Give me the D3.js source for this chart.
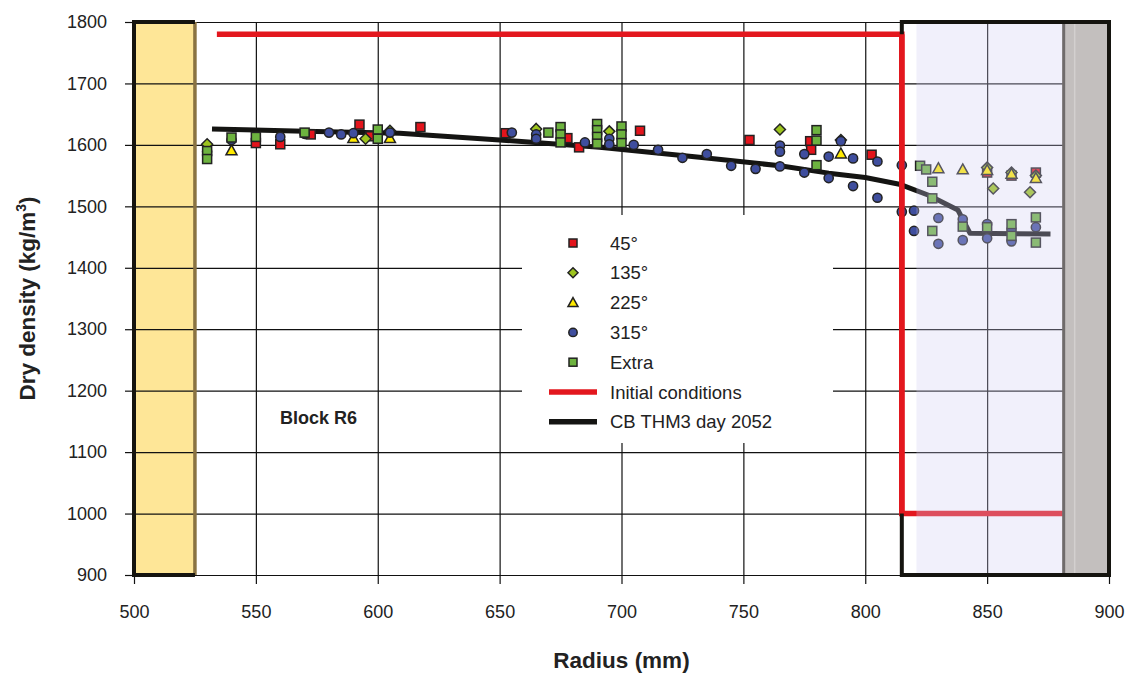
<!DOCTYPE html>
<html><head><meta charset="utf-8">
<script src="https://cdn.jsdelivr.net/npm/d3@7"></script>
<style>
body{margin:0;background:#fff;}
svg text{font-family:"Liberation Sans",Arial,Helvetica,sans-serif;fill:#222;}
</style></head>
<body><svg id="c" width="1131" height="675"></svg>
<script>
// ---------- data ----------
const xTicks = [500,550,600,650,700,750,800,850,900];
const yTicks = [900,1000,1100,1200,1300,1400,1500,1600,1700,1800];

const s45 = [[550,1603],[560,1601],[572.5,1617],[592.5,1633],[597,1614],[617.5,1629],[652.5,1619],
  [677.8,1611],[682.6,1596],[707.6,1623],[752.5,1608],[777.4,1606],[777.8,1592],[802.6,1584],
  [850,1555],[860,1550],[870,1555]];
const s135 = [[530,1601],[595,1610],[605,1623],[665,1626],[695,1622],[765,1625],[790,1608],
  [850,1563],[852.5,1529],[860,1555],[867.6,1523],[870,1550]];
const s225 = [[540,1591],[590,1611],[605,1611],[790,1586],[830,1562],[840,1560],[850,1559],[860,1553],[870,1546]];
const s315 = [[530,1589],[540,1608],[560,1613],[570,1618],[580,1620],[585,1617],[590,1619],[605,1620],
  [655,1620],[665,1617],[665,1610],[685,1604],[695,1610],[695,1601],[705,1600],[715,1592],[725,1579],
  [735,1585],[745,1566],[755,1561],[765,1599],[765,1589],[765,1565],[775,1585],[775,1555],[785,1581],
  [785,1546],[790,1606],[795,1578],[795,1533],[805,1573],[805,1514],[815,1567],[815,1491],[820,1493],
  [820,1460],[830,1481],[830,1439],[840,1479],[840,1445],[850,1471],[850,1448],[860,1462],[860,1443],[870,1466]];
const sExtra = [[530,1590],[530,1577],[540,1612],[550,1613],[570,1620],[600,1625],[600,1610],[670,1620],
  [675,1629],[675,1617],[675,1604],[690,1634],[690,1624],[690,1613],[690,1602],[700,1630],[700,1617],[700,1603],
  [780,1624],[780,1607],[780,1567],[822.5,1566],[825,1560],[827.5,1540],[827.5,1513],[827.5,1460],
  [840,1467],[850,1466],[860,1471],[860,1452],[870,1482],[870,1441]];
const initialConditions = [[534,1780],[815,1780],[815,1000],[882,1000]];
const cbTHM3 = [[532,1626],[570,1622],[609,1619],[650,1608],[691,1596],[732,1580],[765,1566],[785,1554],
  [800,1547],[814,1536],[826,1518],[838,1494],[843,1456],[876,1455]];
const legendLabels = ["45°","135°","225°","315°","Extra","Initial conditions","CB THM3 day 2052"];
const zones = {left:[500,525], buffer:[815,900], lav:[821,881], grey:[881,900]};

// ---------- layout ----------
const svg = d3.select("#c");
const x = d3.scaleLinear().domain([500,900]).range([134,1109]);
const y = d3.scaleLinear().domain([900,1800]).range([575,22]);
const W = x(900)-x(500), H = y(900)-y(1800);
const fmt = d3.format("d");

// left zone (yellow)
svg.append("rect").attr("x",x(zones.left[0])).attr("y",y(1800)).attr("width",x(zones.left[1])-x(zones.left[0]))
  .attr("height",H).attr("fill","#FEE697");

// grid
svg.append("g").attr("transform",`translate(${x(500)},0)`)
  .call(d3.axisLeft(y).tickValues(yTicks).tickSize(-W).tickFormat(""))
  .call(g=>g.select(".domain").remove())
  .call(g=>g.selectAll("line").attr("stroke","#111").attr("stroke-width",1.2));
svg.append("g").attr("transform",`translate(0,${y(1800)})`)
  .call(d3.axisBottom(x).tickValues(xTicks).tickSize(H).tickFormat(""))
  .call(g=>g.select(".domain").remove())
  .call(g=>g.selectAll("line").attr("stroke","#111").attr("stroke-width",1.2));

// tick axes
svg.append("g").attr("transform",`translate(${x(500)},0)`)
  .call(d3.axisLeft(y).tickValues(yTicks).tickSize(9).tickPadding(18).tickFormat(fmt))
  .call(g=>g.select(".domain").remove())
  .call(g=>g.selectAll("line").attr("stroke","#111").attr("stroke-width",1.2))
  .call(g=>g.selectAll("text").attr("font-size",18).attr("fill","#222").style("font-family","'Liberation Sans',Arial,sans-serif"));
svg.append("g").attr("transform",`translate(0,${y(900)})`)
  .call(d3.axisBottom(x).tickValues(xTicks).tickSize(9).tickPadding(21).tickFormat(fmt))
  .call(g=>g.select(".domain").remove())
  .call(g=>g.selectAll("line").attr("stroke","#111").attr("stroke-width",1.2))
  .call(g=>g.selectAll("text").attr("font-size",18).attr("fill","#222").style("font-family","'Liberation Sans',Arial,sans-serif"));

// legend background
svg.append("rect").attr("x",522).attr("y",215).attr("width",311).attr("height",228).attr("fill","#fff");

// lines
const line = d3.line().x(d=>x(d[0])).y(d=>y(d[1]));
svg.append("path").datum(initialConditions).attr("d",line).attr("fill","none")
  .attr("stroke","#E3171E").attr("stroke-width",5.5);
svg.append("path").datum(cbTHM3).attr("d",line).attr("fill","none")
  .attr("stroke","#141412").attr("stroke-width",5).attr("stroke-linejoin","round");

// markers
const MK = {
  square:(g,cx,cy,fill,s=9)=>g.append("rect").attr("x",cx-s/2).attr("y",cy-s/2).attr("width",s).attr("height",s)
    .attr("fill",fill).attr("stroke","#222").attr("stroke-width",1.5),
  diamond:(g,cx,cy,fill,s=5.5)=>g.append("path").attr("d",`M${cx},${cy-s}L${cx+s},${cy}L${cx},${cy+s}L${cx-s},${cy}Z`)
    .attr("fill",fill).attr("stroke","#222").attr("stroke-width",1.5),
  triangle:(g,cx,cy,fill,s=5.5)=>g.append("path").attr("d",`M${cx},${cy-s}L${cx+s},${cy+s*0.8}L${cx-s},${cy+s*0.8}Z`)
    .attr("fill",fill).attr("stroke","#222").attr("stroke-width",1.5),
  circle:(g,cx,cy,fill,s=4.6)=>g.append("circle").attr("cx",cx).attr("cy",cy).attr("r",s)
    .attr("fill",fill).attr("stroke","#222").attr("stroke-width",1.5)
};
const series = [
  {data:s45, mk:"square", fill:"#E3141C"},
  {data:s135, mk:"diamond", fill:"#9DC41E"},
  {data:s225, mk:"triangle", fill:"#FFEA00"},
  {data:s315, mk:"circle", fill:"#3F4E9E"},
  {data:sExtra, mk:"square", fill:"#6DB33F"}
];
const gm = svg.append("g");
series.forEach(s=>s.data.forEach(d=>MK[s.mk](gm,x(d[0]),y(d[1]),s.fill)));

// lavender overlay & grey zone
svg.append("rect").attr("x",x(zones.lav[0])).attr("y",y(1800)).attr("width",x(zones.lav[1])-x(zones.lav[0]))
  .attr("height",H).attr("fill","#D2CEF2").attr("fill-opacity",0.3);
svg.append("rect").attr("x",x(zones.grey[0])).attr("y",y(1800)).attr("width",x(zones.grey[1])-x(zones.grey[0]))
  .attr("height",H).attr("fill","#C3BFBE");
svg.append("line").attr("x1",x(zones.grey[0])+1).attr("x2",x(zones.grey[0])+1).attr("y1",y(1800)).attr("y2",y(900))
  .attr("stroke","#6f6b6b").attr("stroke-width",3);
svg.append("line").attr("x1",x(zones.grey[0])+12).attr("x2",x(zones.grey[0])+12).attr("y1",y(1800)).attr("y2",y(900))
  .attr("stroke","#d3d0cf").attr("stroke-width",1.5);

// frames
svg.append("line").attr("x1",x(zones.left[1])).attr("x2",x(zones.left[1])).attr("y1",y(1800)).attr("y2",y(900))
  .attr("stroke","#8a7342").attr("stroke-width",3.5);
svg.append("path").attr("d",`M${x(zones.left[1])},${y(1800)}H${x(500)}V${y(900)}H${x(zones.left[1])}`)
  .attr("fill","none").attr("stroke","#15140f").attr("stroke-width",4);
svg.append("rect").attr("x",x(zones.buffer[0])).attr("y",y(1800)).attr("width",x(zones.buffer[1])-x(zones.buffer[0]))
  .attr("height",H).attr("fill","none").attr("stroke","#15140f").attr("stroke-width",4);
// red vertical on top of frame
svg.append("path").datum(initialConditions.slice(1,3)).attr("d",line).attr("fill","none")
  .attr("stroke","#E3171E").attr("stroke-width",5.5);

// legend
const lg = svg.append("g");
legendLabels.forEach((t,i)=>{
  const ly = 243 + i*29.8;
  if(i<5){ const s=series[i]; MK[s.mk](lg,573,ly,s.fill, s.mk==="circle"?4.2:(s.mk==="square"?8:5)); }
  else lg.append("line").attr("x1",549).attr("x2",597).attr("y1",ly).attr("y2",ly)
    .attr("stroke", i===5?"#E3171E":"#141412").attr("stroke-width",5.5);
  lg.append("text").attr("x",610).attr("y",ly+6.5).attr("font-size",18.5).text(t);
});

// texts
svg.append("text").attr("x",280).attr("y",424).attr("font-size",18).attr("font-weight","bold").attr("fill","#111").text("Block R6");
svg.append("text").attr("x",(x(500)+x(900))/2).attr("y",668).attr("text-anchor","middle")
  .attr("font-size",22.5).attr("font-weight","bold").attr("fill","#111").text("Radius (mm)");
const yl = svg.append("text").attr("transform",`translate(35,${(y(900)+y(1800))/2}) rotate(-90)`)
  .attr("text-anchor","middle").attr("font-size",22.5).attr("font-weight","bold").attr("fill","#111");
yl.append("tspan").text("Dry density (kg/m");
yl.append("tspan").attr("font-size",14).attr("dy",-9).text("3");
yl.append("tspan").attr("dy",9).text(")");
</script></body></html>
